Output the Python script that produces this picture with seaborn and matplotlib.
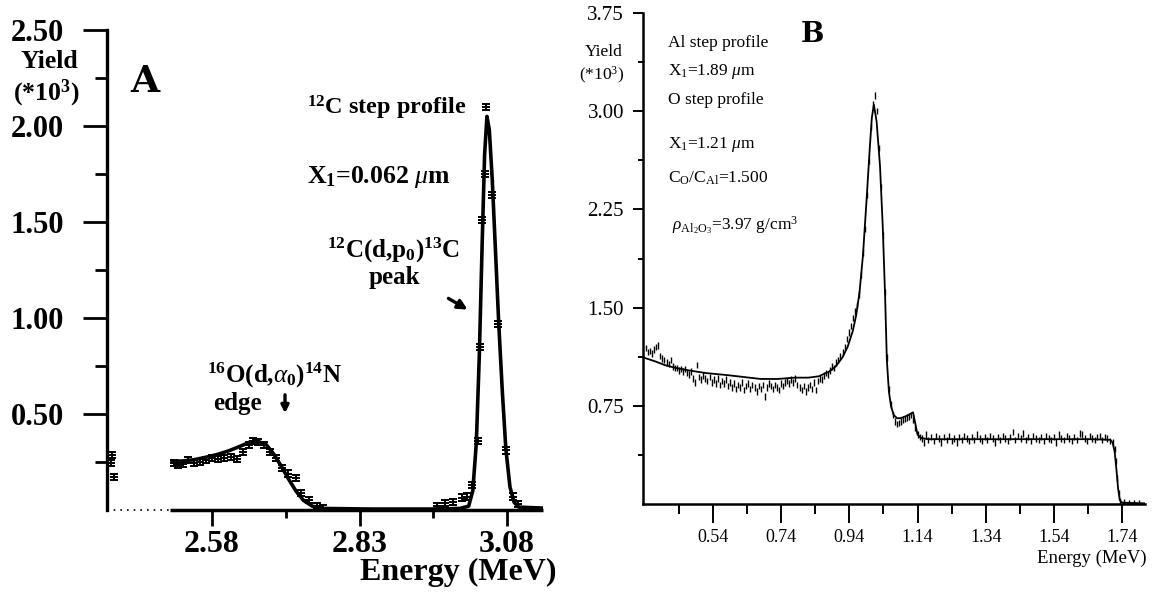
import matplotlib
matplotlib.use("Agg")
import matplotlib.pyplot as plt
import seaborn as sns

# ---------------- Panel A data ----------------
a_fit_e = [2.512, 2.53, 2.55, 2.57, 2.59, 2.61, 2.63, 2.645, 2.66, 2.672, 2.685, 2.697,
           2.71, 2.722, 2.735, 2.75, 2.77, 2.85, 2.95, 3.00, 3.015, 3.022, 3.028, 3.033,
           3.038, 3.042, 3.046, 3.05, 3.055, 3.06, 3.066, 3.072, 3.078, 3.085, 3.092,
           3.10, 3.141]
a_fit_y = [0.255, 0.255, 0.262, 0.275, 0.29, 0.31, 0.335, 0.355, 0.355, 0.34, 0.29, 0.23,
           0.16, 0.10, 0.05, 0.02, 0.008, 0.005, 0.005, 0.008, 0.02, 0.10, 0.35, 0.80,
           1.40, 1.85, 2.05, 1.98, 1.72, 1.38, 0.97, 0.62, 0.32, 0.12, 0.04,
           0.015, 0.01]
a_pts_e = [2.410, 2.409, 2.414, 2.515, 2.522, 2.530, 2.540, 2.550, 2.560, 2.570, 2.580,
           2.590, 2.600, 2.612, 2.622, 2.632, 2.642, 2.650, 2.658, 2.668, 2.678, 2.688,
           2.698, 2.708, 2.722, 2.730, 2.745, 2.758, 2.768, 2.961, 2.975, 2.988, 3.003,
           3.012, 3.020, 3.030, 3.035, 3.038, 3.042, 3.045, 3.055, 3.065, 3.078, 3.090,
           3.098]
a_pts_y = [0.285, 0.245, 0.17, 0.245, 0.235, 0.24, 0.26, 0.245, 0.25, 0.262, 0.27,
           0.265, 0.27, 0.275, 0.265, 0.30, 0.34, 0.36, 0.355, 0.34, 0.30, 0.27,
           0.22, 0.19, 0.165, 0.09, 0.05, 0.02, 0.012, 0.02, 0.035, 0.04, 0.065,
           0.07, 0.13, 0.36, 0.85, 1.51, 1.75, 2.10, 1.64, 0.97, 0.31, 0.07,
           0.03]
a_xticks = [2.58, 2.83, 3.08]
a_xlabels = ["2.58", "2.83", "3.08"]
a_xminor = [2.705, 2.955]
a_yticks = [0.5, 1.0, 1.5, 2.0, 2.5]
a_ylabels = ["0.50", "1.00", "1.50", "2.00", "2.50"]
a_yminor = [0.25, 0.75, 1.25, 1.75, 2.25]

# ---------------- Panel B data ----------------
b_fit_e = [0.335, 0.37, 0.40, 0.43, 0.47, 0.52, 0.58, 0.63, 0.68, 0.73, 0.78, 0.82, 0.85,
           0.88, 0.90, 0.92, 0.935, 0.95, 0.96, 0.97, 0.98, 0.99, 1.00, 1.006, 1.012,
           1.02, 1.03, 1.038, 1.045, 1.05, 1.056, 1.062, 1.07, 1.08, 1.09, 1.10, 1.11,
           1.12, 1.127, 1.133, 1.14, 1.15, 1.17, 1.30, 1.50, 1.65, 1.705, 1.712, 1.718,
           1.723, 1.728, 1.733, 1.74, 1.807]
b_fit_y = [1.12, 1.09, 1.06, 1.04, 1.02, 1.00, 0.985, 0.97, 0.955, 0.955, 0.965, 0.965, 0.975,
           1.01, 1.05, 1.12, 1.20, 1.32, 1.44, 1.62, 1.90, 2.30, 2.72, 2.95, 3.05,
           2.92, 2.58, 2.12, 1.58, 1.10, 0.86, 0.75, 0.68, 0.655, 0.655, 0.665, 0.675,
           0.69, 0.70, 0.62, 0.53, 0.505, 0.495, 0.495, 0.495, 0.495, 0.49, 0.47, 0.40,
           0.27, 0.12, 0.03, 0.01, 0.005]
b_pts_e = [0.343, 0.350, 0.356, 0.362, 0.368, 0.374, 0.380, 0.386, 0.392, 0.398, 0.404,
           0.410, 0.416, 0.422, 0.428, 0.434, 0.440, 0.446, 0.452, 0.458, 0.464, 0.470,
           0.476, 0.482, 0.488, 0.494, 0.500, 0.506, 0.512, 0.518, 0.524, 0.530, 0.536,
           0.542, 0.548, 0.554, 0.560, 0.566, 0.572, 0.578, 0.584, 0.590, 0.596, 0.602,
           0.608, 0.614, 0.620, 0.626, 0.632, 0.638, 0.644, 0.650, 0.656, 0.662, 0.668,
           0.674, 0.680, 0.686, 0.692, 0.698, 0.704, 0.710, 0.716, 0.722, 0.728, 0.734,
           0.740, 0.746, 0.752, 0.758, 0.764, 0.770, 0.776, 0.782, 0.788, 0.794, 0.800,
           0.806, 0.812, 0.818, 0.824, 0.830, 0.836, 0.842, 0.848, 0.854, 0.860, 0.866,
           0.872, 0.878, 0.884, 0.890, 0.896, 0.902, 0.908, 0.914, 0.920, 0.926, 0.932,
           0.938, 0.944, 0.950, 0.956, 0.962,
           0.968, 0.974, 0.980, 0.986, 0.992, 0.998, 1.004, 1.010, 1.015, 1.020, 1.026,
           1.032, 1.038, 1.044, 1.050, 1.056, 1.062, 1.068, 1.074, 1.080, 1.086, 1.092,
           1.098, 1.104, 1.110, 1.116, 1.122, 1.128, 1.134, 1.140, 1.146, 1.152,
           1.158, 1.165, 1.172, 1.180, 1.187, 1.195, 1.202, 1.210, 1.217, 1.225, 1.232,
           1.240, 1.247, 1.255, 1.262, 1.270, 1.277, 1.285, 1.292, 1.300, 1.307, 1.315,
           1.322, 1.330, 1.337, 1.345, 1.352, 1.360, 1.367, 1.375, 1.382, 1.390, 1.397,
           1.405, 1.412, 1.420, 1.427, 1.435, 1.442, 1.450, 1.457, 1.465, 1.472, 1.480,
           1.487, 1.495, 1.502, 1.510, 1.517, 1.525, 1.532, 1.540, 1.547, 1.555, 1.562,
           1.570, 1.577, 1.585, 1.592, 1.600, 1.607, 1.615, 1.622, 1.630, 1.637, 1.645,
           1.652, 1.660, 1.667, 1.675, 1.682, 1.690, 1.697, 1.705, 1.712,
           1.718, 1.722, 1.726, 1.730, 1.735, 1.745, 1.760, 1.775, 1.790]
b_pts_y = [1.19, 1.16, 1.17, 1.15, 1.18, 1.20, 1.21, 1.13, 1.11, 1.10, 1.08,
           1.07, 1.10, 1.05, 1.04, 1.04, 1.02, 1.03, 1.01, 1.03, 1.00, 0.99,
           1.01, 0.96, 0.93, 1.06, 0.97, 0.95, 0.98, 0.96, 0.94, 0.97, 0.93,
           0.95, 0.92, 0.96, 0.91, 0.94, 0.92, 0.95, 0.90, 0.93, 0.89, 0.92,
           0.88, 0.91, 0.89, 0.93, 0.87, 0.90, 0.92, 0.88, 0.91, 0.89, 0.86,
           0.90, 0.88, 0.91, 0.82, 0.89, 0.92, 0.90, 0.88, 0.91, 0.89, 0.87,
           0.92, 0.90, 0.93, 0.94, 0.92, 0.95, 0.93, 0.96, 0.91, 0.89, 0.87,
           0.90, 0.86, 0.89, 0.91, 0.88, 0.93, 0.87, 0.94, 0.96, 0.95, 0.98,
           1.00, 0.99, 1.02, 1.05, 1.04, 1.08, 1.10, 1.13, 1.16, 1.20, 1.26,
           1.31, 1.36, 1.42, 1.47, 1.52,
           1.60, 1.75, 1.92, 2.10, 2.36, 2.62, 2.88, 3.05, 3.12, 3.00, 2.72,
           2.42, 2.05, 1.62, 1.12, 0.88, 0.76, 0.68, 0.63, 0.61, 0.62, 0.63,
           0.64, 0.65, 0.66, 0.67, 0.68, 0.64, 0.58, 0.53, 0.51, 0.50,
           0.47, 0.53, 0.49, 0.51, 0.48, 0.52, 0.50, 0.47, 0.51, 0.49, 0.52,
           0.48, 0.50, 0.47, 0.51, 0.49, 0.52, 0.50, 0.48, 0.51, 0.49, 0.53,
           0.50, 0.48, 0.51, 0.49, 0.52, 0.50, 0.47, 0.51, 0.49, 0.52, 0.50,
           0.48, 0.51, 0.55, 0.49, 0.52, 0.50, 0.54, 0.49, 0.51, 0.48, 0.52,
           0.50, 0.49, 0.51, 0.48, 0.52, 0.50, 0.49, 0.51, 0.47, 0.53, 0.50,
           0.49, 0.52, 0.50, 0.48, 0.51, 0.49, 0.54, 0.53, 0.50, 0.48, 0.52,
           0.50, 0.49, 0.51, 0.52, 0.49, 0.51, 0.50, 0.48, 0.47,
           0.42, 0.33, 0.20, 0.08, 0.02, 0.01, 0.005, 0.005, 0.005]
b_xticks = [0.54, 0.74, 0.94, 1.14, 1.34, 1.54, 1.74]
b_xlabels = ["0.54", "0.74", "0.94", "1.14", "1.34", "1.54", "1.74"]
b_xminor = [0.44, 0.64, 0.84, 1.04, 1.24, 1.44, 1.64]
b_yticks = [0.75, 1.50, 2.25, 3.00, 3.75]
b_ylabels = ["0.75", "1.50", "2.25", "3.00", "3.75"]
b_yminor = [0.375, 1.125, 1.875, 2.625, 3.375]

# ---------------- Style ----------------
sns.set_theme(style="white")
plt.rcParams['font.family'] = ['Liberation Serif', 'DejaVu Serif']
plt.rcParams['mathtext.fontset'] = 'custom'
plt.rcParams['mathtext.rm'] = 'Liberation Serif'
plt.rcParams['mathtext.it'] = 'Liberation Serif:italic'
plt.rcParams['mathtext.bf'] = 'Liberation Serif:bold'
plt.rcParams['text.color'] = 'black'
plt.rcParams['axes.labelcolor'] = 'black'
plt.rcParams['xtick.color'] = 'black'
plt.rcParams['ytick.color'] = 'black'

W, H = 1153, 597
fig = plt.figure(figsize=(W / 100, H / 100), dpi=100)
fig.patch.set_facecolor('white')


def box(x0, y0, x1, y1):
    return [x0 / W, 1 - y1 / H, (x1 - x0) / W, (y1 - y0) / H]


def fx(x):
    return x / W


def fy(y):
    return 1 - y / H


axA = fig.add_axes(box(107, 30, 543, 510))
axB = fig.add_axes(box(643, 13, 1145, 504))

# ---------------- Panel A ----------------
sns.lineplot(x=a_fit_e, y=a_fit_y, ax=axA, color='black', lw=2.6,
             sort=False, estimator=None)
axA.errorbar(a_pts_e, a_pts_y, yerr=0.016, fmt='_', ms=6, mew=1.4, color='black',
             ecolor='black', elinewidth=1.4, capsize=3, capthick=1.4)
axA.set_xlim(2.402, 3.141)
axA.set_ylim(0, 2.5)
for s in ['top', 'right', 'bottom']:
    axA.spines[s].set_visible(False)
axA.spines['left'].set_linewidth(2.4)
axA.spines['left'].set_color('black')
axA.hlines(0, 2.402, 2.5085, colors='black', linestyles=(0, (1, 3)), lw=1.2, clip_on=False)
axA.hlines(0, 2.5085, 3.141, colors='black', lw=2.5, clip_on=False)
axA.set_xticks(a_xticks)
axA.set_xticklabels(a_xlabels, fontweight='bold')
axA.set_xticks(a_xminor, minor=True)
axA.set_yticks(a_yticks)
axA.set_yticklabels(a_ylabels, fontweight='bold')
axA.set_yticks(a_yminor, minor=True)
axA.tick_params(axis='x', which='major', bottom=True, direction='out', length=11.5,
                width=2, pad=3, labelsize=23, colors='black')
axA.tick_params(axis='x', which='minor', bottom=True, direction='out', length=5.8, width=2)
axA.tick_params(axis='y', which='major', left=True, direction='out', length=17,
                width=2, pad=14, labelsize=22, colors='black')
axA.tick_params(axis='y', which='minor', left=True, direction='out', length=8.6, width=2)
axA.set_xlabel('')
axA.set_ylabel('')

fig.text(fx(78), fy(61), 'Yield', ha='right', va='center', fontsize=18.5, fontweight='bold')
fig.text(fx(79), fy(93), r'(*10$^{\mathbf{3}}$)', ha='right', va='center', fontsize=18.5,
         fontweight='bold')
fig.text(fx(145), fy(82), 'A', ha='center', va='center', fontsize=27, fontweight='bold',
         family='DejaVu Serif')
fig.text(fx(307), fy(115), r'$^{\mathbf{12}}$C step profile', ha='left', va='baseline',
         fontsize=17.5, fontweight='bold')
fig.text(fx(307), fy(183), r'X$_{\mathbf{1}}$=0.062 $\mu$m', ha='left', va='baseline',
         fontsize=18.5, fontweight='bold')
fig.text(fx(327), fy(258), r'$^{\mathbf{12}}$C(d,p$_{\mathbf{0}}$)$^{\mathbf{13}}$C',
         ha='left', va='baseline', fontsize=18, fontweight='bold')
fig.text(fx(394), fy(284), 'peak', ha='center', va='baseline', fontsize=18,
         fontweight='bold')
fig.text(fx(207), fy(383), r'$^{\mathbf{16}}$O(d,$\alpha_{\mathbf{0}}$)$^{\mathbf{14}}$N',
         ha='left', va='baseline', fontsize=18, fontweight='bold')
fig.text(fx(213), fy(410), 'edge', ha='left', va='baseline', fontsize=18,
         fontweight='bold')
axA.annotate('', xy=(470, H - 311), xytext=(446, H - 297), xycoords='figure pixels',
             textcoords='figure pixels',
             arrowprops=dict(arrowstyle='-|>', color='black', lw=2.4, mutation_scale=14))
axA.annotate('', xy=(285, H - 416), xytext=(285, H - 392), xycoords='figure pixels',
             textcoords='figure pixels',
             arrowprops=dict(arrowstyle='-|>', color='black', lw=2.4, mutation_scale=11))
fig.text(fx(557), fy(580), 'Energy (MeV)', ha='right', va='baseline', fontsize=23,
         fontweight='bold')

# ---------------- Panel B ----------------
sns.lineplot(x=b_fit_e, y=b_fit_y, ax=axB, color='black', lw=1.3,
             sort=False, estimator=None)
axB.errorbar(b_pts_e, b_pts_y, yerr=0.025, fmt='none', ecolor='black',
             elinewidth=1.0, capsize=0)
axB.set_xlim(0.335, 1.807)
axB.set_ylim(0, 3.75)
for s in ['top', 'right']:
    axB.spines[s].set_visible(False)
for s in ['left', 'bottom']:
    axB.spines[s].set_linewidth(1.8)
    axB.spines[s].set_color('black')
axB.set_xticks(b_xticks)
axB.set_xticklabels(b_xlabels)
axB.set_xticks(b_xminor, minor=True)
axB.set_yticks(b_yticks)
axB.set_yticklabels(b_ylabels)
axB.set_yticks(b_yminor, minor=True)
axB.tick_params(axis='x', which='major', bottom=True, direction='out', length=13.7,
                width=1.4, pad=4.3, labelsize=13, colors='black')
axB.tick_params(axis='x', which='minor', bottom=True, direction='out', length=7.2, width=1.4)
axB.tick_params(axis='y', which='major', left=True, direction='out', length=7.2,
                width=1.4, pad=6.5, labelsize=15, colors='black')
axB.tick_params(axis='y', which='minor', left=True, direction='out', length=3.6, width=1.4)
axB.set_xlabel('')
axB.set_ylabel('')

fig.text(fx(623), fy(52), 'Yield', ha='right', va='center', fontsize=12.5)
fig.text(fx(624), fy(75), r'(*10$^3$)', ha='right', va='center', fontsize=12.5)
fig.text(fx(812), fy(35), 'B', ha='center', va='center', fontsize=20, fontweight='heavy',
         family='DejaVu Serif')
fig.text(fx(668), fy(47), 'Al step profile', ha='left', va='baseline', fontsize=12.5)
fig.text(fx(668), fy(75), r'X$_1$=1.89 $\mu$m', ha='left', va='baseline', fontsize=12.5)
fig.text(fx(668), fy(104), 'O step profile', ha='left', va='baseline', fontsize=12.5)
fig.text(fx(668), fy(148), r'X$_1$=1.21 $\mu$m', ha='left', va='baseline', fontsize=12.5)
fig.text(fx(668), fy(183), r'C$_{\rm O}$/C$_{\rm Al}$=1.500', ha='left', va='baseline',
         fontsize=12.5)
fig.text(fx(672), fy(230), r'$\rho_{\rm Al_2O_3}$=3.97 g/cm$^3$', ha='left',
         va='baseline', fontsize=12.5)
fig.text(fx(1147), fy(563), 'Energy (MeV)', ha='right', va='baseline', fontsize=13.5)

fig.savefig('out.png', dpi=100, facecolor='white')
